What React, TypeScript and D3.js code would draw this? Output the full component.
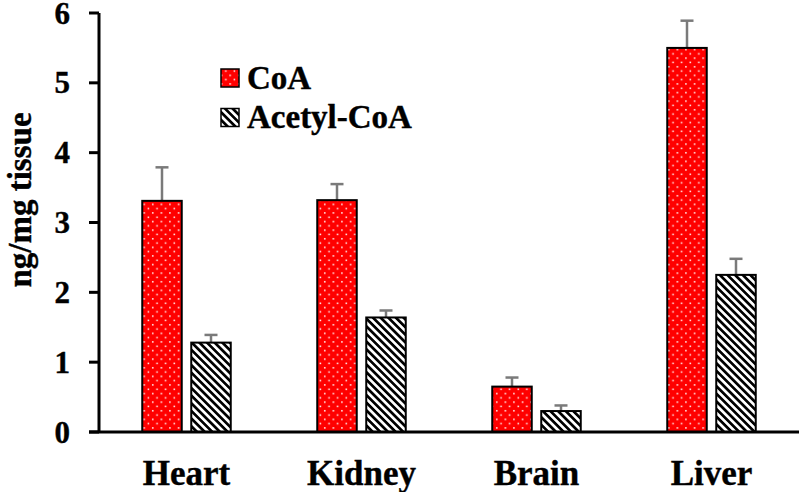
import React, { useEffect, useRef } from "react";
import * as d3 from "d3";

const categories = ["Heart", "Kidney", "Brain", "Liver"];
const seriesNames = ["CoA", "Acetyl-CoA"];
const coaValues = [3.31, 3.32, 0.65, 5.5];
const coaErrors = [0.48, 0.23, 0.13, 0.39];
const acetylValues = [1.28, 1.64, 0.3, 2.25];
const acetylErrors = [0.11, 0.1, 0.08, 0.23];
const yTicks = [0, 1, 2, 3, 4, 5, 6];
const yLabel = "ng/mg tissue";

const W = 800;
const H = 492;
const FONT = "Liberation Serif, DejaVu Serif, serif";

export default function App() {
  const ref = useRef<SVGSVGElement | null>(null);

  useEffect(() => {
    const svg = d3.select(ref.current);
    svg.selectAll("*").remove();

    const x0 = 99;
    const x1 = 799;
    const y0 = 432;
    const yTop = 13;

    const x = d3.scaleBand<string>().domain(categories).range([x0, x1]).padding(0);
    const y = d3.scaleLinear().domain([0, 6]).range([y0, yTop]);

    const defs = svg.append("defs");
    const dots = defs
      .append("pattern")
      .attr("id", "dots")
      .attr("patternUnits", "userSpaceOnUse")
      .attr("width", 8.6)
      .attr("height", 8.6);
    dots.append("rect").attr("width", 8.6).attr("height", 8.6).attr("fill", "#ff0000");
    dots.append("rect").attr("x", 1.5).attr("y", 1.5).attr("width", 1.5).attr("height", 1.5).attr("fill", "#fff");
    dots.append("rect").attr("x", 5.8).attr("y", 5.8).attr("width", 1.5).attr("height", 1.5).attr("fill", "#fff");

    const stripes = defs
      .append("pattern")
      .attr("id", "stripes")
      .attr("patternUnits", "userSpaceOnUse")
      .attr("width", 5.4)
      .attr("height", 10)
      .attr("patternTransform", "rotate(-45)");
    stripes.append("rect").attr("width", 5.4).attr("height", 10).attr("fill", "#fff");
    stripes.append("rect").attr("width", 2.7).attr("height", 10).attr("fill", "#000");

    const barW = 39.5;
    const gap = 9.5;
    const fills = ["url(#dots)", "url(#stripes)"];
    const values = [coaValues, acetylValues];
    const errors = [coaErrors, acetylErrors];

    const g = svg.append("g");
    categories.forEach((c, i) => {
      const center = (x(c) as number) + x.bandwidth() / 2;
      [0, 1].forEach((s) => {
        const bx = s === 0 ? center - gap / 2 - barW : center + gap / 2;
        const cx = bx + barW / 2;
        const v = values[s][i];
        const e = errors[s][i];
        g.append("line")
          .attr("x1", cx).attr("x2", cx)
          .attr("y1", y(v)).attr("y2", y(v + e))
          .attr("stroke", "#7a7a7a").attr("stroke-width", 2.5);
        g.append("line")
          .attr("x1", cx - 6.5).attr("x2", cx + 6.5)
          .attr("y1", y(v + e)).attr("y2", y(v + e))
          .attr("stroke", "#7a7a7a").attr("stroke-width", 2.5);
        g.append("rect")
          .attr("x", bx).attr("y", y(v))
          .attr("width", barW).attr("height", y0 - y(v))
          .attr("fill", fills[s])
          .attr("stroke", "#000").attr("stroke-width", 2);
      });
    });

    // axes
    svg.append("line")
      .attr("x1", x0).attr("x2", x0).attr("y1", yTop).attr("y2", y0)
      .attr("stroke", "#000").attr("stroke-width", 3);
    svg.append("line")
      .attr("x1", 89).attr("x2", x1).attr("y1", y0).attr("y2", y0)
      .attr("stroke", "#000").attr("stroke-width", 3);

    const txt = (sel: any, size: number) =>
      sel
        .attr("font-family", FONT)
        .attr("font-weight", "bold")
        .attr("font-size", size)
        .attr("fill", "#000")
        .attr("stroke", "#000")
        .attr("stroke-width", 0.4);

    yTicks.forEach((t) => {
      svg.append("line")
        .attr("x1", 89).attr("x2", x0).attr("y1", y(t)).attr("y2", y(t))
        .attr("stroke", "#000").attr("stroke-width", 3);
      txt(
        svg.append("text")
          .attr("x", 70).attr("y", y(t))
          .attr("dy", "0.34em")
          .attr("text-anchor", "end"),
        31
      ).text(String(t));
    });

    categories.forEach((c) => {
      txt(
        svg.append("text")
          .attr("x", (x(c) as number) + x.bandwidth() / 2)
          .attr("y", 485)
          .attr("text-anchor", "middle"),
        35
      ).text(c);
    });

    txt(
      svg.append("text")
        .attr("transform", "translate(31,200) rotate(-90)")
        .attr("text-anchor", "middle"),
      33
    ).text(yLabel);

    // legend
    seriesNames.forEach((name, i) => {
      const ly = 69 + i * 39.5;
      svg.append("rect")
        .attr("x", 221).attr("y", ly).attr("width", 18).attr("height", 18)
        .attr("fill", fills[i]).attr("stroke", "#000").attr("stroke-width", 1.5);
      txt(svg.append("text").attr("x", 247).attr("y", ly + 19.5), 33).text(name);
    });
  }, []);

  return (
    <svg
      ref={ref}
      width={W}
      height={H}
      style={{ position: "absolute", left: 0, top: 0, background: "#fff" }}
    />
  );
}
